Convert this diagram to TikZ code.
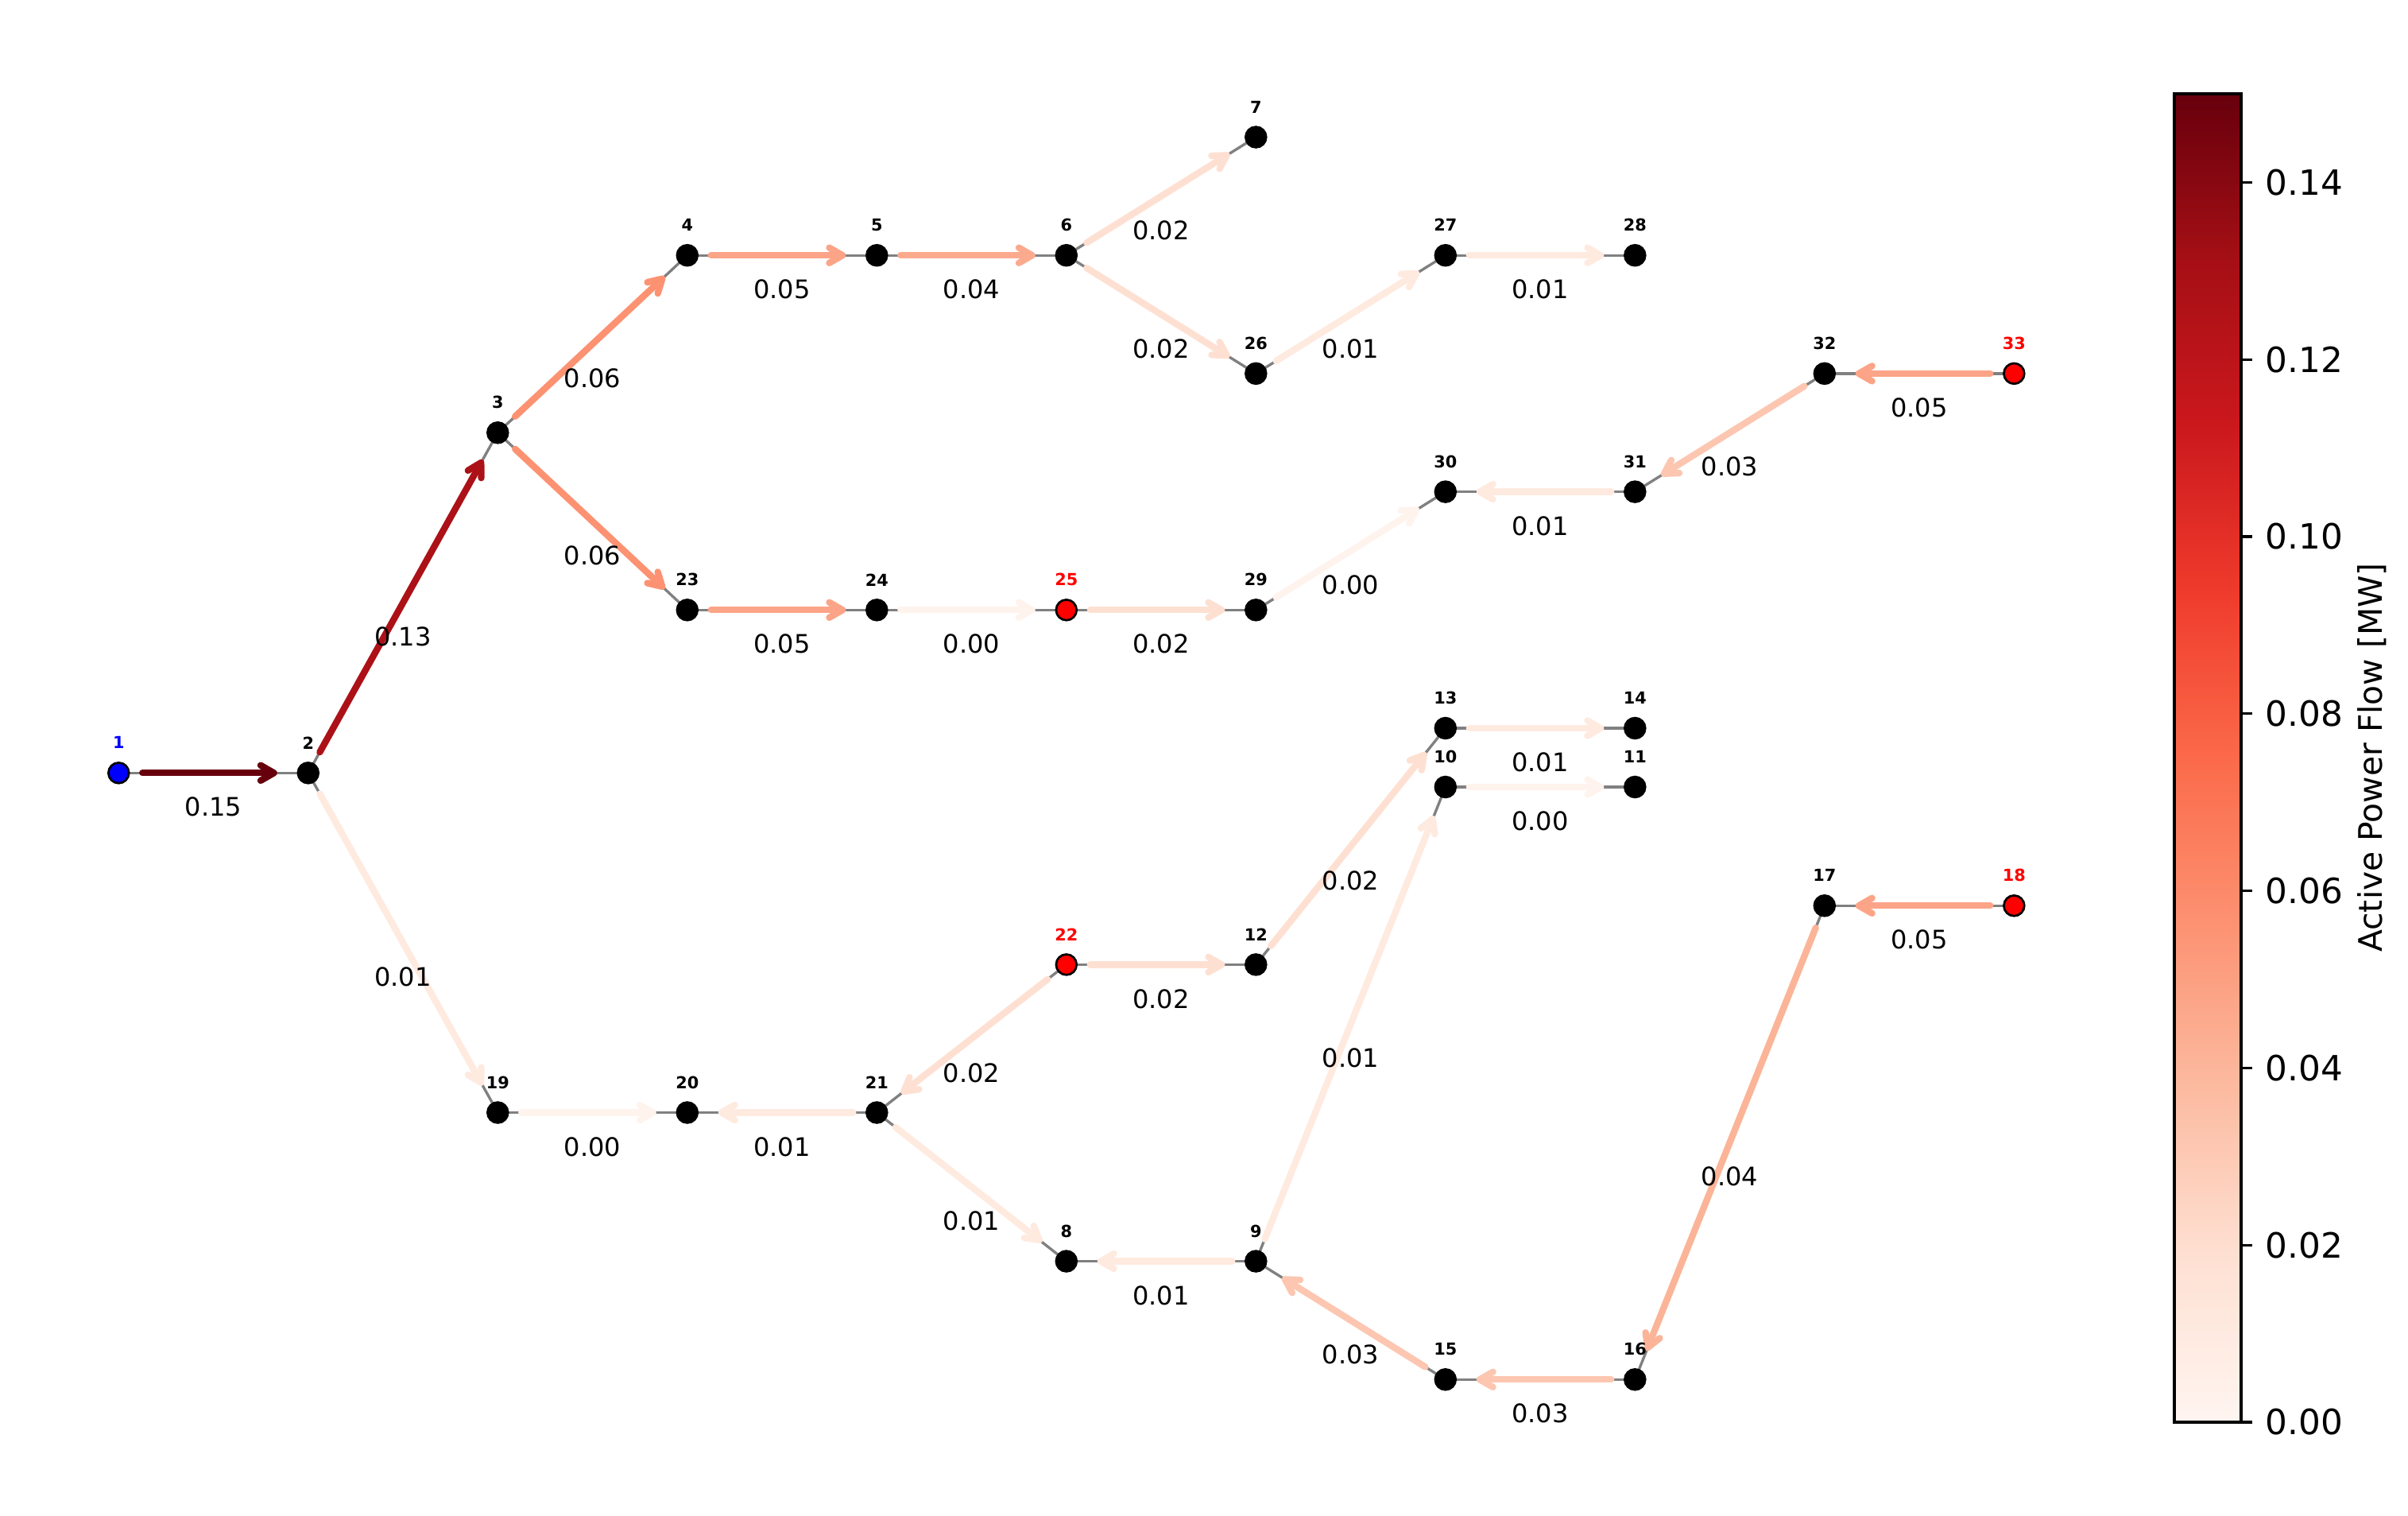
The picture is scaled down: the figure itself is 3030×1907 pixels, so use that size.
\documentclass[tikz,border=0pt]{standalone}
\usepackage{fontspec}
\setmainfont{DejaVu Sans}
\usetikzlibrary{arrows.meta}

\pgfdeclarelayer{paper}
\pgfdeclarelayer{edges}
\pgfsetlayers{paper,edges,main}

% Reds colour map stops (0 -> 1)
\definecolor{r0}{RGB}{255,245,240}
\definecolor{r1}{RGB}{254,224,210}
\definecolor{r2}{RGB}{252,187,161}
\definecolor{r3}{RGB}{252,146,114}
\definecolor{r4}{RGB}{251,106,74}
\definecolor{r5}{RGB}{239,59,44}
\definecolor{r6}{RGB}{203,24,29}
\definecolor{r7}{RGB}{165,15,21}
\definecolor{r8}{RGB}{103,0,13}

% flow colours
\definecolor{fA}{RGB}{103,0,13}    % 0.15
\definecolor{fB}{RGB}{172,17,23}   % 0.13
\definecolor{fC}{RGB}{252,146,114} % 0.06
\definecolor{fD}{RGB}{252,164,135} % 0.05
\definecolor{fDd}{RGB}{252,170,142}% 0.04 (upper)
\definecolor{fE}{RGB}{252,180,152} % 0.04
\definecolor{fF}{RGB}{253,198,176} % 0.03
\definecolor{fG}{RGB}{254,224,210} % 0.02
\definecolor{fH}{RGB}{255,234,224} % 0.01
\definecolor{fI}{RGB}{255,243,237} % 0.00
\definecolor{edgegray}{RGB}{128,128,128}

\pgfdeclareverticalshading{redsbar}{100bp}{%
  color(0bp)=(r0); color(25bp)=(r0);
  color(31.25bp)=(r1); color(37.5bp)=(r2); color(43.75bp)=(r3);
  color(50bp)=(r4); color(56.25bp)=(r5); color(62.5bp)=(r6);
  color(68.75bp)=(r7); color(75bp)=(r8); color(100bp)=(r8)}

\tikzset{
  bus/.style={circle, draw=black, line width=0.65pt, inner sep=0pt,
    outer sep=0pt, minimum size=6.2pt},
  nlab/.style={font=\fontsize{5}{6}\selectfont\bfseries, inner sep=0pt},
  elab/.style={font=\fontsize{7.7}{9}\selectfont, inner sep=0pt, yshift=-10.3pt},
  gline/.style={draw=edgegray, line width=0.8pt},
  fline/.style={line width=2pt, line cap=round,
    -{Straight Barb[length=4pt, width=4.6pt, round]},
    shorten <=7.2pt, shorten >=9.36pt},
  tick/.style={font=\fontsize{10.5}{12}\selectfont, inner sep=0pt, anchor=west}
}

\newcommand\flowedge[4]{%
  \begin{pgfonlayer}{edges}
    \draw[gline] (#1.center) -- (#2.center);
    \draw[fline, draw=#3] (#1.center) -- (#2.center);
  \end{pgfonlayer}
  \path (#1.center) -- node[elab] {#4} (#2.center);
}

\begin{document}
\begin{tikzpicture}[x=0.24pt, y=-0.24pt]
\begin{pgfonlayer}{paper}
  \fill[white] (0,0) rectangle (3030,1907);
\end{pgfonlayer}
\useasboundingbox (0,0) rectangle (3030,1907);

% buses: number / x / y / fill colour
\foreach \n/\x/\y/\c in {
  1/149.3/972.3/blue, 2/387.8/972.3/black, 3/626.3/544.3/black,
  4/864.8/321.2/black, 5/1103.3/321.2/black, 6/1341.8/321.2/black,
  7/1580.3/172.5/black, 8/1341.8/1586.5/black, 9/1580.3/1586.5/black,
  10/1818.8/990/black, 11/2057.3/990/black, 12/1580.3/1213.4/black,
  13/1818.8/916/black, 14/2057.3/916/black, 15/1818.8/1735.3/black,
  16/2057.3/1735.3/black, 17/2295.8/1139.3/black, 18/2534.3/1139.3/red,
  19/626.3/1399.5/black, 20/864.8/1399.5/black, 21/1103.3/1399.5/black,
  22/1341.8/1213.4/red, 23/864.8/767.3/black, 24/1103.3/767.3/black,
  25/1341.8/767.3/red, 26/1580.3/469.9/black, 27/1818.8/321.2/black,
  28/2057.3/321.2/black, 29/1580.3/767.3/black, 30/1818.8/618.6/black,
  31/2057.3/618.6/black, 32/2295.8/469.9/black, 33/2534.3/469.9/red}
{
  \node[bus, fill=\c] (b\n) at (\x,\y) {};
  \node[nlab, text=\c] at ([yshift=9.12pt]b\n.center) {\n};
}

% power flows along the lines
\flowedge{b1}{b2}{fA}{0.15}
\flowedge{b2}{b3}{fB}{0.13}
\flowedge{b3}{b4}{fC}{0.06}
\flowedge{b3}{b23}{fC}{0.06}
\flowedge{b4}{b5}{fD}{0.05}
\flowedge{b5}{b6}{fDd}{0.04}
\flowedge{b6}{b7}{fG}{0.02}
\flowedge{b6}{b26}{fG}{0.02}
\flowedge{b26}{b27}{fH}{0.01}
\flowedge{b27}{b28}{fH}{0.01}
\flowedge{b33}{b32}{fD}{0.05}
\flowedge{b32}{b31}{fF}{0.03}
\flowedge{b31}{b30}{fH}{0.01}
\flowedge{b23}{b24}{fD}{0.05}
\flowedge{b24}{b25}{fI}{0.00}
\flowedge{b25}{b29}{fG}{0.02}
\flowedge{b29}{b30}{fI}{0.00}
\flowedge{b2}{b19}{fH}{0.01}
\flowedge{b19}{b20}{fI}{0.00}
\flowedge{b21}{b20}{fH}{0.01}
\flowedge{b22}{b21}{fG}{0.02}
\flowedge{b22}{b12}{fG}{0.02}
\flowedge{b12}{b13}{fG}{0.02}
\flowedge{b13}{b14}{fH}{0.01}
\flowedge{b10}{b11}{fI}{0.00}
\flowedge{b9}{b10}{fH}{0.01}
\flowedge{b21}{b8}{fH}{0.01}
\flowedge{b9}{b8}{fH}{0.01}
\flowedge{b15}{b9}{fF}{0.03}
\flowedge{b16}{b15}{fF}{0.03}
\flowedge{b17}{b16}{fE}{0.04}
\flowedge{b18}{b17}{fD}{0.05}

% colour bar
\shade[shading=redsbar] (2736,118) rectangle (2820,1789);
\draw[line width=0.8pt] (2736,118) rectangle (2820,1789);
\foreach \i/\t in {0/0.00,1/0.02,2/0.04,3/0.06,4/0.08,5/0.10,6/0.12,7/0.14}{
  \coordinate (t\i) at (2820,{1789-222.8*\i});
  \draw[line width=0.8pt] (t\i) -- ++(14,0);
  \node[tick] at ([xshift=7.2pt]t\i) {\t};
}
\node[font=\fontsize{9.8}{12}\selectfont, rotate=90, anchor=base, inner sep=0pt]
  (cblabel) at (2997,953) {Active Power Flow [MW]};
\end{tikzpicture}
\end{document}
